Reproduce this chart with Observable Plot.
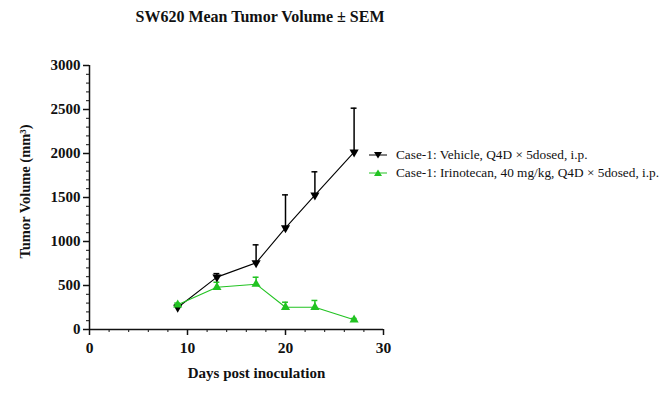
<!DOCTYPE html>
<html>
<head>
<meta charset="utf-8">
<script src="https://cdn.jsdelivr.net/npm/d3@7"></script>
<script src="https://cdn.jsdelivr.net/npm/@observablehq/plot@0.6"></script>
<style>
  html, body { margin: 0; padding: 0; background: #fff; }
  #wrap { position: relative; width: 667px; height: 411px; font-family: "Liberation Serif", "Times New Roman", serif; }
  #title { position: absolute; top: 8px; left: 0; width: 520px; text-align: center; font-weight: bold; font-size: 16px; color: #111; }
  #legend { position: absolute; left: 368px; top: 146px; font-size: 13.3px; color: #111; }
  .row { display: flex; align-items: center; height: 18px; white-space: nowrap; }
  .row svg { margin-right: 8px; }
</style>
</head>
<body>
<div id="wrap">
  <div id="title">SW620 Mean Tumor Volume ± SEM</div>
  <div id="chart"></div>
  <div id="legend"></div>
</div>
<script>
// Study days and group means / SEM (mm³)
const days = [9, 13, 17, 20, 23, 27];
const vehicleMean = [250, 595, 757, 1155, 1526, 2015];
const vehicleSem = [30, 40, 205, 375, 266, 500];
const irinoMean = [280, 480, 515, 253, 253, 110];
const irinoSem = [20, 57, 79, 57, 77, 15];
const groups = [
  "Case-1: Vehicle, Q4D × 5dosed, i.p.",
  "Case-1: Irinotecan, 40 mg/kg, Q4D × 5dosed, i.p."
];
const colors = ["#000000", "#22c322"];
const yTicks = [0, 500, 1000, 1500, 2000, 2500, 3000];
const xTicks = [0, 10, 20, 30];
const xLabel = "Days post inoculation";
const yLabel = "Tumor Volume (mm³)";

const rows = [];
days.forEach((d, i) => rows.push({group: groups[0], day: d, mean: vehicleMean[i], sem: vehicleSem[i]}));
days.forEach((d, i) => rows.push({group: groups[1], day: d, mean: irinoMean[i], sem: irinoSem[i]}));

const color = {domain: groups, range: colors};
const serif = "Liberation Serif, Times New Roman, serif";

const chart = Plot.plot({
  width: 667,
  height: 411,
  marginLeft: 89,
  marginRight: 284,
  marginTop: 65,
  marginBottom: 82,
  style: {fontFamily: serif, background: "white", color: "#111"},
  x: {domain: [0, 30]},
  y: {domain: [0, 3000]},
  color,
  marks: [
    // minor ticks
    Plot.axisY({ticks: d3.range(0, 3001, 100), tickSize: 3, text: null, strokeWidth: 1, label: null}),
    Plot.axisX({ticks: d3.range(0, 31, 2), tickSize: 3, text: null, strokeWidth: 1, label: null}),
    // major ticks and labels
    Plot.axisY({ticks: yTicks, tickFormat: d => String(d), tickSize: 6, tickPadding: 3, strokeWidth: 1.5,
      fontSize: 15, fontWeight: "bold", label: null}),
    Plot.axisX({ticks: xTicks, tickFormat: d => String(d), tickSize: 6, tickPadding: 6, strokeWidth: 1.5,
      fontSize: 15.5, fontWeight: "bold", label: null}),
    // axis titles
    Plot.text([xLabel], {text: d => d, frameAnchor: "bottom", dx: 20, dy: 44, lineAnchor: "middle",
      fontSize: 15, fontWeight: "bold"}),
    Plot.text([yLabel], {text: d => d, frameAnchor: "left", dx: -64, dy: -6, rotate: -90, textAnchor: "middle",
      lineAnchor: "middle", fontSize: 14.5, fontWeight: "bold"}),
    Plot.ruleX([0], {y1: 0, y2: 3000, strokeWidth: 1.5}),
    Plot.ruleY([0], {x1: 0, x2: 30, strokeWidth: 1.5}),
    // upward SEM bars with caps
    Plot.ruleX(rows, {x: "day", y1: "mean", y2: d => d.mean + d.sem, stroke: "group", strokeWidth: 1.5}),
    Plot.ruleY(rows, {y: d => d.mean + d.sem, x1: d => d.day - 0.3, x2: d => d.day + 0.3, stroke: "group", strokeWidth: 1.5}),
    // connecting lines
    Plot.line(rows, {x: "day", y: "mean", z: "group", stroke: "group", strokeWidth: 1.1}),
    // markers: vehicle points down, irinotecan points up
    Plot.dot(rows.filter(d => d.group === groups[0]), {x: "day", y: "mean", symbol: "triangle", r: 3.4, rotate: 180, fill: colors[0], stroke: "none"}),
    Plot.dot(rows.filter(d => d.group === groups[1]), {x: "day", y: "mean", symbol: "triangle", r: 3.4, fill: colors[1], stroke: "none"})
  ]
});
document.getElementById("chart").appendChild(chart);

// legend
const legend = d3.select("#legend");
groups.forEach((g, i) => {
  const row = legend.append("div").attr("class", "row");
  const s = row.append("svg").attr("width", 20).attr("height", 12);
  s.append("line").attr("x1", 1).attr("x2", 19).attr("y1", 6).attr("y2", 6).attr("stroke", colors[i]).attr("stroke-width", 1);
  const up = i === 1;
  s.append("path")
    .attr("d", up ? "M10,2.5L14,9L6,9Z" : "M10,9.5L14,3L6,3Z")
    .attr("fill", colors[i]);
  row.append("span").text(g);
});
</script>
</body>
</html>
